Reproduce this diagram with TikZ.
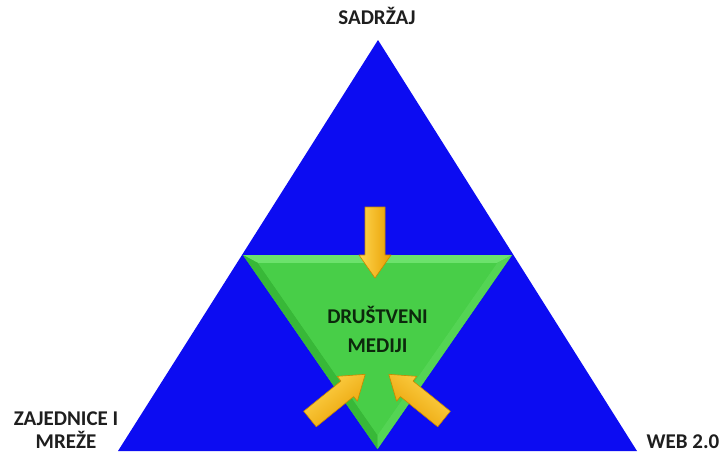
\documentclass[tikz,border=0pt]{standalone}
\usepackage{fontspec}
\setmainfont{Carlito}
\definecolor{triblue}{RGB}{12,12,242}
\definecolor{grmain}{RGB}{72,206,72}
\definecolor{grlight}{RGB}{108,226,108}
\definecolor{grdark}{RGB}{56,184,56}
\definecolor{grright}{RGB}{84,212,84}
\definecolor{arrlight}{RGB}{255,214,80}
\definecolor{arrdark}{RGB}{232,158,0}
\definecolor{arredge}{RGB}{200,135,0}
\definecolor{lbltext}{RGB}{30,30,30}
\definecolor{dmtext}{RGB}{12,40,12}
\tikzset{
  lbl/.style={inner sep=0pt, text=lbltext, align=center, font=\bfseries\fontsize{21}{23}\selectfont},
  dmlbl/.style={inner sep=0pt, text=dmtext, align=center, font=\bfseries\fontsize{21}{29}\selectfont},
  arrowbody/.style={draw=arredge, line width=0.6pt, line join=round, top color=arrlight, bottom color=arrdark},
}
\newcommand{\blockarrow}{(0,-10) -- (48,-10) -- (48,-16) -- (71,0) -- (48,16) -- (48,10) -- (0,10) -- cycle}
\begin{document}
\begin{tikzpicture}[x=1pt,y=-1pt]
\useasboundingbox (0,0) rectangle (721,455);
% outer blue triangle
\coordinate (bl) at (118,451);
\coordinate (top) at (378,40);
\coordinate (br) at (637,451);
\fill[triblue] (bl) -- (top) -- (br) -- cycle;
% inner green triangle with bevel
\coordinate (ga) at (243,255);
\coordinate (gb) at (512,255);
\coordinate (gc) at (377.5,449);
\coordinate (ia) at (258,263);
\coordinate (ib) at (497,263);
\coordinate (ic) at (377.5,435);
\fill[grmain] (ga) -- (gb) -- (gc) -- cycle;
\fill[grlight] (ga) -- (gb) -- (ib) -- (ia) -- cycle;
\fill[grdark] (ga) -- (ia) -- (ic) -- (gc) -- cycle;
\fill[grright] (gb) -- (ib) -- (ic) -- (gc) -- cycle;
\fill[grmain] (ia) -- (ib) -- (ic) -- cycle;
% arrows
\begin{scope}[shift={(375,207)}, rotate=-90]
  \path[arrowbody, shading angle=90] \blockarrow;
\end{scope}
\begin{scope}[shift={(310,419)}, rotate=39]
  \path[arrowbody, shading angle=39] \blockarrow;
\end{scope}
\begin{scope}[shift={(444,419)}, rotate=141]
  \path[arrowbody, shading angle=-39] \blockarrow;
\end{scope}
% labels
\node[lbl] (sadrzaj) at (377,16) {SADRŽAJ};
\node[lbl] (zaj) at (66,430) {ZAJEDNICE I\\MREŽE};
\node[lbl] (web) at (683,442) {WEB 2.0};
\node[dmlbl] (dm) at (377.5,329) {DRUŠTVENI\\MEDIJI};
\end{tikzpicture}
\end{document}
